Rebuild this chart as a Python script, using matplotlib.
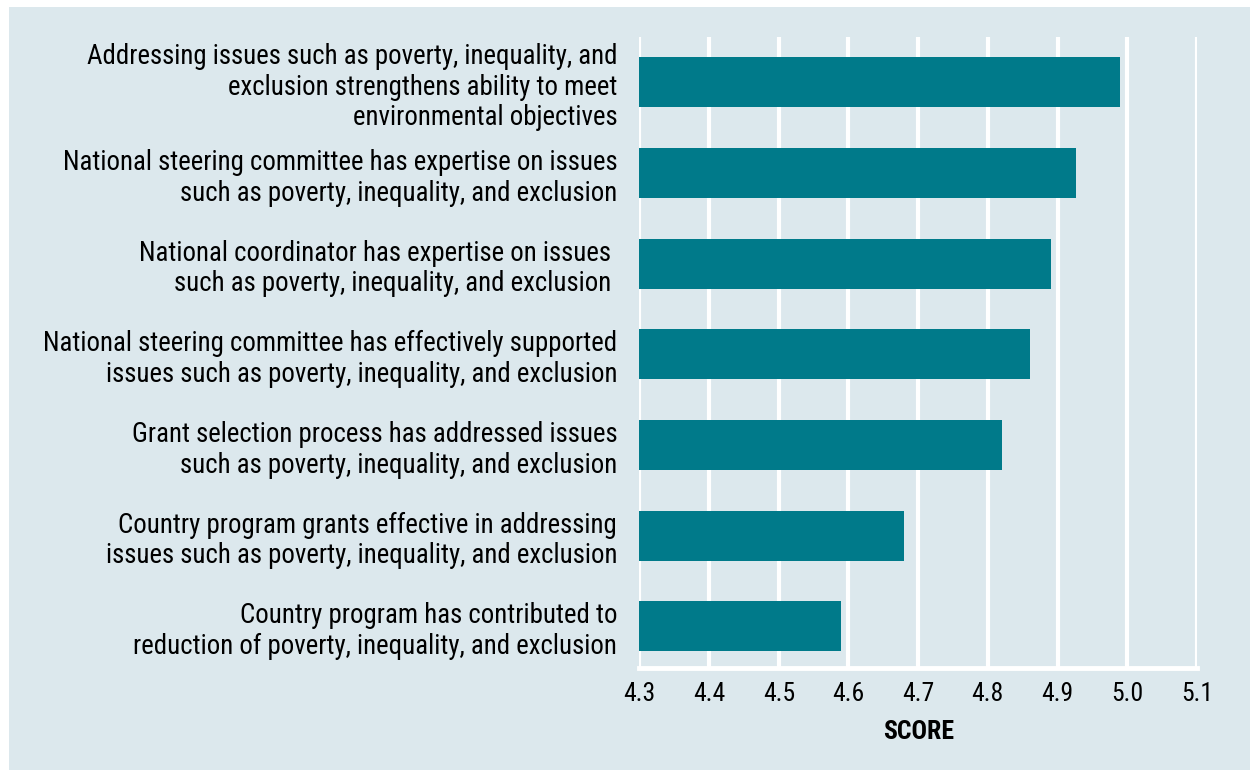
import matplotlib.pyplot as plt
from matplotlib.patches import Rectangle

plt.rcParams['font.family'] = ['Roboto Condensed', 'DejaVu Sans']

# Survey statements (top to bottom) and their mean scores
labels = [
    "Addressing issues such as poverty, inequality, and\nexclusion strengthens ability to meet\nenvironmental objectives",
    "National steering committee has expertise on issues\nsuch as poverty, inequality, and exclusion",
    "National coordinator has expertise on issues \nsuch as poverty, inequality, and exclusion ",
    "National steering committee has effectively supported\nissues such as poverty, inequality, and exclusion",
    "Grant selection process has addressed issues\nsuch as poverty, inequality, and exclusion",
    "Country program grants effective in addressing\nissues such as poverty, inequality, and exclusion",
    "Country program has contributed to\nreduction of poverty, inequality, and exclusion",
]
scores = [4.99, 4.926, 4.89, 4.86, 4.82, 4.68, 4.59]
xticks = [4.3, 4.4, 4.5, 4.6, 4.7, 4.8, 4.9, 5.0, 5.1]

bg = '#dce8ed'
teal = '#007a8a'

fig = plt.figure(figsize=(12.5, 7.7), dpi=100)
fig.patch.set_facecolor('white')
# light panel behind the chart
fig.add_artist(Rectangle((9 / 1250, 0), 1, 1 - 7 / 770, transform=fig.transFigure,
                         facecolor=bg, edgecolor='none', zorder=-10))

ax = fig.add_axes([0.5115, 0.1325, 0.446, 0.8195])
ax.set_facecolor(bg)

y = range(len(labels))
ax.barh(y, [s - 4.3 for s in scores], left=4.3, height=0.55, color=teal, zorder=3)

ax.set_xlim(4.3, 5.1)
ax.set_ylim(6.46, -0.5)
ax.set_xticks(xticks)
ax.set_xticklabels([f"{t:.1f}" for t in xticks], fontsize=18.5)
ax.set_yticks(list(y))
ax.set_yticklabels(labels, fontsize=19.4, linespacing=1.17)
ax.tick_params(axis='both', length=0)
ax.tick_params(axis='y', pad=16)
ax.tick_params(axis='x', pad=10)

ax.grid(axis='x', color='white', linewidth=3, zorder=1)
ax.set_axisbelow(True)
for side in ['top', 'right', 'left']:
    ax.spines[side].set_visible(False)
ax.spines['bottom'].set_color('white')
ax.spines['bottom'].set_linewidth(3.5)

ax.set_xlabel('SCORE', fontsize=18.5, fontweight='bold', labelpad=10)

fig.savefig('out.png', dpi=100)
